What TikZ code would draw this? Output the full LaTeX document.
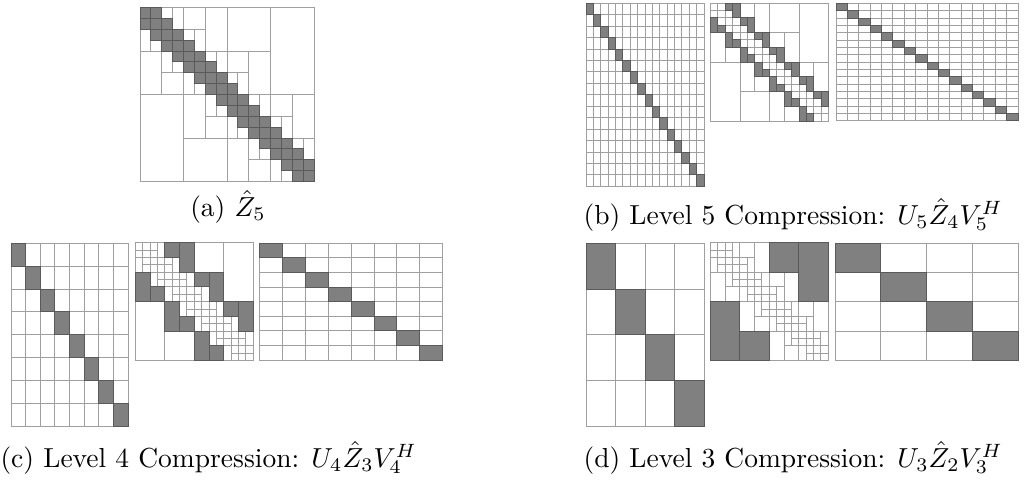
\documentclass[tikz,border=0pt]{standalone}
\usepackage{amsmath}
\definecolor{gline}{RGB}{160,160,160}
\definecolor{dfill}{RGB}{128,128,128}
\definecolor{dline}{RGB}{90,90,90}
\tikzset{
  cell/.style={draw=gline, line width=0.35pt, fill=white},
  dcell/.style={draw=dline, line width=0.35pt, fill=dfill},
  captext/.style={inner sep=0pt}
}
% one rectangle of the hierarchical partition: r0 c0 r1 c1 class
\newcommand\hrect[5]{%
  \ifnum#5=\hdark\relax\def\isd{1}\else\def\isd{0}\fi
  \ifnum\isd=\hpass\relax
    \ifnum\isd=1
      \draw[dcell] ({\hx+(#2)*\hc},{\hy+(#1)*\hc}) rectangle ({\hx+(#4)*\hc},{\hy+(#3)*\hc});
    \else
      \draw[cell] ({\hx+(#2)*\hc},{\hy+(#1)*\hc}) rectangle ({\hx+(#4)*\hc},{\hy+(#3)*\hc});
    \fi
  \fi}
\newcommand\hpart{%
  \foreach \g/\sz in {2/4,3/2,4/1}{%
    \pgfmathtruncatemacro\pmax{16/\sz/2-2}%
    \foreach \P in {0,...,\pmax}{%
      \pgfmathtruncatemacro\qA{2*\P*\sz}%
      \pgfmathtruncatemacro\qB{(2*\P+1)*\sz}%
      \pgfmathtruncatemacro\qC{(2*\P+2)*\sz}%
      \pgfmathtruncatemacro\qD{(2*\P+3)*\sz}%
      \pgfmathtruncatemacro\qE{(2*\P+4)*\sz}%
      \hrect{\qA}{\qC}{\qB}{\qD}{\g}%
      \hrect{\qA}{\qD}{\qC}{\qE}{\g}%
      \hrect{\qC}{\qA}{\qE}{\qB}{\g}%
      \hrect{\qD}{\qB}{\qE}{\qC}{\g}%
    }%
  }%
  \foreach \i in {0,...,15}{%
    \foreach \j in {0,...,15}{%
      \pgfmathtruncatemacro\dd{abs(\i-\j)}%
      \ifnum\dd<2
        \pgfmathtruncatemacro\ii{\i+1}\pgfmathtruncatemacro\jj{\j+1}%
        \hrect{\i}{\j}{\ii}{\jj}{0}%
      \fi
    }}%
}
% hierarchical matrix: x0 y0 cell darkclass
\newcommand\hmat[4]{%
  \def\hx{#1}\def\hy{#2}\def\hc{#3}\def\hdark{#4}%
  \def\hpass{0}\hpart
  \def\hpass{1}\hpart}
% block diagonal basis: x0 y0 n cellw cellh
\newcommand\dmat[5]{%
  \foreach \i in {1,...,#3}{\foreach \j in {1,...,#3}{%
    \draw[cell] ({#1+(\j-1)*#4},{#2+(\i-1)*#5}) rectangle ++(#4,#5);}}%
  \foreach \i in {1,...,#3}{%
    \draw[dcell] ({#1+(\i-1)*#4},{#2+(\i-1)*#5}) rectangle ++(#4,#5);}%
}
\begin{document}
\begin{tikzpicture}[x=0.3636pt,y=-0.3636pt]
\useasboundingbox (0,0) rectangle (1028,481);
% (a)
\hmat{140}{7.5}{10.875}{0}
% (b)
\dmat{586}{3.3}{16}{7.375}{11.4375}
\hmat{710.5}{3}{7.375}{4}
\dmat{836}{3.3}{16}{11.375}{7.34}
% (c)
\dmat{11}{243.3}{8}{14.66}{22.84}
\hmat{135.3}{242.7}{7.375}{3}
\dmat{259.7}{243.3}{8}{22.875}{14.59}
% (d)
\dmat{586}{243.3}{4}{29.5}{45.7}
\hmat{710.3}{242.7}{7.375}{2}
\dmat{835}{243.3}{4}{45.75}{29.25}
% captions
\node[captext, anchor=base] (capa) at (228,216) {(a) $\hat{Z}_5$};
\node[captext, anchor=base west] (capb) at (583,224) {(b) Level 5 Compression: $U_5\hat{Z}_4V_5^H$};
\node[captext, anchor=base west] (capc) at (0,467) {(c) Level 4 Compression: $U_4\hat{Z}_3V_4^H$};
\node[captext, anchor=base west] (capd) at (583,467) {(d) Level 3 Compression: $U_3\hat{Z}_2V_3^H$};
\end{tikzpicture}
\end{document}
